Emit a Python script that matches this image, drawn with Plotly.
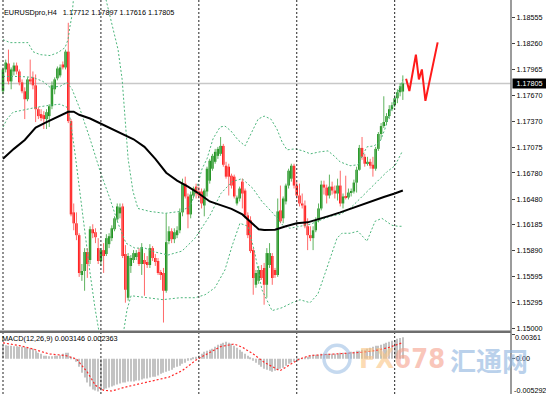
import plotly.graph_objects as go

# ---------------- data ----------------
symbol_label = "EURUSDpro,H4"
last_ohlc = [1.17712, 1.17897, 1.17616, 1.17805]
macd_name = "MACD(12,26,9)"
macd_last = [0.003146, 0.002363]
last_price = 1.17805

price_ticks = [1.18555, 1.18260, 1.17965, 1.17670, 1.17370, 1.17075, 1.16780,
               1.16480, 1.16185, 1.15890, 1.15595, 1.15295, 1.15000]
price_tick_text = ["1.18555", "1.18260", "1.17965", "1.17670", "1.17370", "1.17075", "1.16780",
                   "1.16480", "1.16185", "1.15890", "1.15595", "1.15295", "1.15000"]
macd_ticks = [0.00361, 0.0, -0.005292]
macd_tick_text = ["0.00361", "0.00", "-0.005292"]

# period separators (bar index)
separators = [0, 36, 72, 108, 144]

open_ = [1.17715, 1.17965, 1.18033, 1.17828, 1.17942, 1.18010, 1.17942, 1.17817, 1.17715, 1.17624,
         1.17851, 1.17874, 1.17783, 1.17510, 1.17454, 1.17442, 1.17397, 1.17431, 1.17544, 1.17738,
         1.17863, 1.17897, 1.18022, 1.17988, 1.18169, 1.17374, 1.16329, 1.16204, 1.16068, 1.15613,
         1.15659, 1.15875, 1.15784, 1.16136, 1.16102, 1.15920, 1.15772, 1.15897, 1.15852, 1.15965,
         1.16034, 1.16136, 1.16249, 1.16318, 1.16397, 1.15852, 1.15352, 1.15716, 1.15784, 1.15818,
         1.15875, 1.15738, 1.15784, 1.15761, 1.15727, 1.15920, 1.15806, 1.15772, 1.15647, 1.15636,
         1.15432, 1.16000, 1.16113, 1.16022, 1.16068, 1.16124, 1.16329, 1.16658, 1.16511, 1.16306,
         1.16522, 1.16624, 1.16568, 1.16568, 1.16408, 1.16568, 1.16692, 1.16829, 1.16908, 1.16976,
         1.16999, 1.17090, 1.16863, 1.16852, 1.16749, 1.16738, 1.16431, 1.16488, 1.16681, 1.16579,
         1.16295, 1.16238, 1.15897, 1.15500, 1.15545, 1.15670, 1.15693, 1.15500, 1.15727, 1.15829,
         1.15670, 1.15613, 1.16352, 1.16261, 1.16454, 1.16636, 1.16715, 1.16863, 1.16636, 1.16522,
         1.16431, 1.16408, 1.16170, 1.16068, 1.16034, 1.16124, 1.16238, 1.16374, 1.16647, 1.16613,
         1.16522, 1.16624, 1.16579, 1.16545, 1.16636, 1.16431, 1.16511, 1.16499, 1.16556, 1.16568,
         1.16670, 1.16817, 1.17067, 1.16965, 1.16886, 1.16908, 1.16874, 1.16829, 1.17056, 1.17226,
         1.17317, 1.17363, 1.17431, 1.17510, 1.17556, 1.17635, 1.17704, 1.17712]
high_ = [1.17988, 1.18078, 1.18192, 1.17988, 1.18044, 1.18044, 1.17965, 1.17851, 1.17760, 1.17874,
         1.18078, 1.17942, 1.17908, 1.17533, 1.17510, 1.17488, 1.17510, 1.17567, 1.17828, 1.17874,
         1.17999, 1.18022, 1.18056, 1.18192, 1.18499, 1.17397, 1.16431, 1.16329, 1.16090, 1.15738,
         1.15920, 1.15920, 1.16170, 1.16193, 1.16147, 1.16034, 1.15920, 1.15977, 1.16079, 1.16090,
         1.16181, 1.16284, 1.16431, 1.16431, 1.16431, 1.15954, 1.15863, 1.15840, 1.15897, 1.15897,
         1.15920, 1.15977, 1.15863, 1.15829, 1.15965, 1.15943, 1.15852, 1.15806, 1.15670, 1.15693,
         1.16318, 1.16170, 1.16147, 1.16147, 1.16170, 1.16374, 1.16715, 1.16738, 1.16545, 1.16568,
         1.16624, 1.16658, 1.16624, 1.16602, 1.16602, 1.16852, 1.16942, 1.16999, 1.17056, 1.17079,
         1.17192, 1.17113, 1.16908, 1.16886, 1.16772, 1.16761, 1.16522, 1.16624, 1.16715, 1.16602,
         1.16329, 1.16284, 1.15920, 1.15670, 1.15716, 1.15727, 1.15750, 1.15920, 1.15977, 1.15863,
         1.15693, 1.16488, 1.16636, 1.16511, 1.16658, 1.16829, 1.16886, 1.16886, 1.16681, 1.16658,
         1.16545, 1.16465, 1.16261, 1.16170, 1.16170, 1.16272, 1.16431, 1.16692, 1.16692, 1.16647,
         1.16761, 1.16681, 1.16636, 1.16715, 1.16806, 1.16545, 1.16749, 1.16602, 1.16602, 1.16704,
         1.16852, 1.17101, 1.17192, 1.16999, 1.16965, 1.16942, 1.16965, 1.17079, 1.17249, 1.17351,
         1.17658, 1.17465, 1.17556, 1.17590, 1.17669, 1.17738, 1.17806, 1.17897]
low_ = [1.17681, 1.17931, 1.17794, 1.17738, 1.17897, 1.17908, 1.17783, 1.17692, 1.17397, 1.17601,
        1.17794, 1.17738, 1.17363, 1.17397, 1.17374, 1.17283, 1.17283, 1.17306, 1.17510, 1.17681,
        1.17840, 1.17874, 1.17965, 1.17965, 1.17351, 1.16284, 1.16124, 1.16011, 1.15591, 1.15545,
        1.15432, 1.15579, 1.15738, 1.16034, 1.15977, 1.15738, 1.15716, 1.15636, 1.15829, 1.15920,
        1.16000, 1.16113, 1.16227, 1.16261, 1.15806, 1.15295, 1.15318, 1.15636, 1.15750, 1.15784,
        1.15716, 1.15613, 1.15375, 1.15693, 1.15693, 1.15772, 1.15716, 1.15613, 1.15556, 1.15068,
        1.15409, 1.15965, 1.15977, 1.15977, 1.16034, 1.16090, 1.16284, 1.16488, 1.16147, 1.16261,
        1.16488, 1.16488, 1.16488, 1.16374, 1.16284, 1.16511, 1.16658, 1.16806, 1.16886, 1.16942,
        1.16976, 1.16852, 1.16715, 1.16522, 1.16602, 1.16488, 1.16408, 1.16454, 1.16374, 1.16261,
        1.16034, 1.15863, 1.15386, 1.15466, 1.15511, 1.15556, 1.15272, 1.15352, 1.15693, 1.15500,
        1.15579, 1.15591, 1.16204, 1.16204, 1.16420, 1.16602, 1.16681, 1.16602, 1.16488, 1.16397,
        1.16374, 1.16147, 1.15897, 1.16000, 1.15897, 1.16102, 1.16215, 1.16352, 1.16533, 1.16431,
        1.16488, 1.16533, 1.16488, 1.16465, 1.16397, 1.16374, 1.16477, 1.16477, 1.16511, 1.16545,
        1.16556, 1.16806, 1.16931, 1.16852, 1.16863, 1.16829, 1.16738, 1.16806, 1.17033, 1.17170,
        1.17295, 1.17329, 1.17397, 1.17488, 1.17533, 1.17579, 1.17658, 1.17616]
close_ = [1.17965, 1.18044, 1.17828, 1.17965, 1.18010, 1.17942, 1.17817, 1.17715, 1.17624, 1.17851,
          1.17828, 1.17783, 1.17510, 1.17431, 1.17408, 1.17397, 1.17476, 1.17544, 1.17783, 1.17851,
          1.17976, 1.17988, 1.17988, 1.18169, 1.17374, 1.16306, 1.16204, 1.16068, 1.15636, 1.15659,
          1.15875, 1.15738, 1.16136, 1.16090, 1.16045, 1.15772, 1.15897, 1.15829, 1.16034, 1.16056,
          1.16147, 1.16261, 1.16397, 1.16386, 1.15829, 1.15443, 1.15829, 1.15806, 1.15863, 1.15863,
          1.15738, 1.15931, 1.15738, 1.15727, 1.15920, 1.15806, 1.15761, 1.15636, 1.15613, 1.15432,
          1.15988, 1.16113, 1.16022, 1.16102, 1.16124, 1.16329, 1.16658, 1.16511, 1.16306, 1.16533,
          1.16602, 1.16545, 1.16522, 1.16431, 1.16579, 1.16829, 1.16920, 1.16976, 1.17022, 1.17056,
          1.17090, 1.16874, 1.16738, 1.16738, 1.16636, 1.16511, 1.16499, 1.16602, 1.16545, 1.16295,
          1.16068, 1.15886, 1.15579, 1.15636, 1.15670, 1.15579, 1.15500, 1.15863, 1.15863, 1.15579,
          1.15613, 1.16340, 1.16227, 1.16488, 1.16636, 1.16806, 1.16863, 1.16636, 1.16522, 1.16431,
          1.16408, 1.16170, 1.16068, 1.16034, 1.16124, 1.16238, 1.16374, 1.16647, 1.16613, 1.16522,
          1.16624, 1.16579, 1.16545, 1.16636, 1.16431, 1.16511, 1.16499, 1.16556, 1.16568, 1.16670,
          1.16817, 1.17067, 1.16965, 1.16886, 1.16908, 1.16863, 1.16829, 1.17056, 1.17226, 1.17317,
          1.17363, 1.17431, 1.17510, 1.17556, 1.17635, 1.17704, 1.17772, 1.17805]

# moving average (black), sampled at bar indices
ma_idx = [0, 4, 8, 12, 16, 20, 24, 26, 28, 32, 36, 40, 44, 48, 52, 56, 60, 64, 68, 72,
          76, 80, 84, 88, 92, 94, 96, 100, 104, 108, 112, 116, 120, 124, 128, 132, 136, 140, 144, 147]
ma_val = [1.16942, 1.17056, 1.17158, 1.17300, 1.17363, 1.17420, 1.17480, 1.17482, 1.17446, 1.17403,
          1.17346, 1.17283, 1.17232, 1.17166, 1.17079, 1.16942, 1.16783, 1.16692, 1.16624, 1.16545,
          1.16454, 1.16414, 1.16369, 1.16306, 1.16193, 1.16136, 1.16128, 1.16131, 1.16170, 1.16204,
          1.16215, 1.16250, 1.16289, 1.16329, 1.16374, 1.16420, 1.16465, 1.16505, 1.16545, 1.16579]

# Bollinger bands (green dotted), sampled at bar indices
bb_up_idx = [0, 2.6, 6.3, 9.2, 11, 13.6, 17.3, 20.2, 22.8, 23.9, 24.6, 25.4, 26.5, 37.1, 37.9, 40.4,
             42.3, 43.8, 44.9, 46, 47.8, 49.6, 54, 59.6, 65.1, 68.8, 71, 73.2, 75, 77.2, 79.8, 81.6,
             83.8, 86.4, 89, 91.5, 93.8, 96, 98.5, 100.7, 102.6, 104.4, 107.4, 110.3, 113, 116.5,
             119.5, 121.7, 123.9, 127.6, 130.5, 133.8, 136.4, 138.6, 140.4, 142.3, 144.5, 146, 147]
bb_up_val = [1.18306, 1.18272, 1.18272, 1.18272, 1.18169, 1.18135, 1.18124, 1.18158, 1.18215, 1.18306,
             1.18453, 1.18590, 1.18990, 1.18990, 1.18760, 1.18453, 1.18192, 1.17851, 1.17340, 1.16942,
             1.16568, 1.16374, 1.16340, 1.16318, 1.16340, 1.16397, 1.16579, 1.16829, 1.16942, 1.17170,
             1.17306, 1.17317, 1.17261, 1.17158, 1.17090, 1.17249, 1.17397, 1.17431, 1.17397, 1.17283,
             1.17136, 1.17045, 1.17056, 1.17033, 1.16999, 1.17022, 1.17033, 1.16976, 1.16908, 1.16863,
             1.16874, 1.17079, 1.17090, 1.17136, 1.17283, 1.17476, 1.17658, 1.17772, 1.17851]
bb_mid_idx = [0, 2.6, 6.3, 11, 14.7, 17.3, 21, 23.5, 25.4, 28.3, 32, 36, 39.3, 42.3, 45.2, 48.5,
              52.2, 55.9, 60.7, 65.8, 70.6, 76.1, 80.1, 84.2, 87.9, 91.9, 95.2, 99.3, 102.9, 105.5,
              109.2, 112.9, 116.5, 120.2, 123.9, 127.6, 131.3, 134.9, 138.6, 141.2, 144.1, 146.7]
bb_mid_val = [1.17885, 1.17885, 1.17885, 1.17874, 1.17828, 1.17760, 1.17772, 1.17817, 1.17738, 1.17511,
              1.17170, 1.16772, 1.16488, 1.16204, 1.15977, 1.15920, 1.15920, 1.15875, 1.15841, 1.15886,
              1.16034, 1.16295, 1.16545, 1.16681, 1.16715, 1.16602, 1.16454, 1.16318, 1.16181, 1.16147,
              1.16170, 1.16193, 1.16238, 1.16284, 1.16306, 1.16374, 1.16488, 1.16602, 1.16715, 1.16795,
              1.16863, 1.17022]
bb_low_idx = [0, 1.5, 3.7, 8.8, 12.5, 17.3, 21, 23.5, 24.6, 26.5, 28.3, 30.1, 32, 33.8, 35.7, 37.5,
              42.3, 44.1, 45.6, 47.1, 52.9, 58.8, 65.1, 70.6, 74.3, 77.9, 81.6, 84.2, 87.1, 90.1,
              92.6, 95.2, 98.9, 102.6, 106.3, 109.2, 112.9, 115.8, 117.6, 120.2, 122.8, 124.6, 127.6,
              130.5, 133.8, 136.8, 139.3, 143, 145.2, 147]
bb_low_val = [1.17306, 1.17397, 1.17476, 1.17511, 1.17533, 1.17556, 1.17567, 1.17533, 1.17420, 1.16999,
              1.16545, 1.16090, 1.15636, 1.15238, 1.14898, 1.14557, 1.14557, 1.14898, 1.15216, 1.15375,
              1.15352, 1.15330, 1.15352, 1.15352, 1.15386, 1.15466, 1.15670, 1.15943, 1.16204, 1.16170,
              1.15863, 1.15443, 1.15204, 1.15238, 1.15295, 1.15329, 1.15295, 1.15397, 1.15557, 1.15784,
              1.16034, 1.16090, 1.16090, 1.16113, 1.15999, 1.16227, 1.16261, 1.16181, 1.16170, 1.16170]

# projected path (red)
proj_idx = [148.2, 149.4, 151.8, 152.9, 154.0, 155.3, 159.8]
proj_val = [1.17859, 1.17718, 1.18135, 1.17851, 1.17965, 1.17605, 1.18275]

# MACD main (grey histogram), one value per bar
macd_main = [0.00197, 0.00197, 0.00190, 0.00190, 0.00182, 0.00182, 0.00175, 0.00175, 0.00168, 0.00160,
             0.00153, 0.00146, 0.00117, 0.00088, 0.00073, 0.00044, 0.00044, 0.00036, 0.00036, 0.00044,
             0.00044, 0.00051, 0.00073, 0.00088, 0.00088, 0.00029, 0.00007, -0.00044, -0.00117, -0.00204,
             -0.00277, -0.00350, -0.00409, -0.00452, -0.00467, -0.00481, -0.00467, -0.00452, -0.00438, -0.00423,
             -0.00409, -0.00394, -0.00379, -0.00365, -0.00350, -0.00350, -0.00336, -0.00336, -0.00336, -0.00321,
             -0.00321, -0.00306, -0.00292, -0.00292, -0.00277, -0.00263, -0.00263, -0.00248, -0.00219, -0.00204,
             -0.00190, -0.00175, -0.00160, -0.00131, -0.00117, -0.00102, -0.00073, -0.00058, -0.00029, -0.00015,
             0.00015, 0.00029, 0.00044, 0.00073, 0.00102, 0.00117, 0.00131, 0.00146, 0.00175, 0.00204,
             0.00219, 0.00233, 0.00248, 0.00233, 0.00219, 0.00190, 0.00160, 0.00131, 0.00102, 0.00073,
             0.00044, 0.00015, -0.00029, -0.00058, -0.00088, -0.00117, -0.00146, -0.00160, -0.00175, -0.00190,
             -0.00175, -0.00160, -0.00146, -0.00131, -0.00102, -0.00073, -0.00058, -0.00044, -0.00029, -0.00015,
             0.00007, 0.00015, 0.00029, 0.00044, 0.00058, 0.00058, 0.00058, 0.00073, 0.00073, 0.00073,
             0.00073, 0.00073, 0.00073, 0.00073, 0.00088, 0.00088, 0.00088, 0.00088, 0.00102, 0.00102,
             0.00117, 0.00117, 0.00131, 0.00131, 0.00146, 0.00160, 0.00175, 0.00190, 0.00190, 0.00204,
             0.00219, 0.00233, 0.00248, 0.00263, 0.00277, 0.00292, 0.00306, 0.003146]
# MACD signal (red dotted), sampled at bar indices
sig_idx = [0, 6, 11, 17, 23, 27, 31, 34, 37, 40, 45, 50, 56, 61, 66, 71, 75, 80, 85, 88, 92, 96,
           101, 102, 105, 109, 113, 118, 123, 128, 132, 137, 142, 147]
sig_val = [0.00233, 0.00193, 0.00143, 0.00070, 0.00047, -0.00003, -0.00197, -0.00391, -0.00464, -0.00474,
           -0.00416, -0.00368, -0.00309, -0.00270, -0.00172, -0.00018, 0.00070, 0.00178, 0.00216, 0.00168,
           0.00070, -0.00051, -0.00160, -0.00172, -0.00099, -0.00003, 0.00047, 0.00061, 0.00070, 0.00080,
           0.00095, 0.00120, 0.00168, 0.002363]

# ---------------- figure ----------------
W, H = 546, 397
PLOT_W = 511
bars = list(range(len(close_)))

UP_BODY, UP_WICK = "#0a870a", "#5fb35f"
DN_BODY, DN_WICK = "#ff0000", "#ff6a6a"
BB_COL = "#4db67c"
FONT = "Liberation Sans, Arial, sans-serif"

fig = go.Figure()

wx_u, wy_u, wx_d, wy_d = [], [], [], []
for i in bars:
    if close_[i] >= open_[i]:
        wx_u += [i, i, None]; wy_u += [low_[i], high_[i], None]
    else:
        wx_d += [i, i, None]; wy_d += [low_[i], high_[i], None]
fig.add_trace(go.Scatter(x=wx_u, y=wy_u, mode="lines", line=dict(color=UP_WICK, width=1),
                         hoverinfo="skip", xaxis="x", yaxis="y"))
fig.add_trace(go.Scatter(x=wx_d, y=wy_d, mode="lines", line=dict(color=DN_WICK, width=1),
                         hoverinfo="skip", xaxis="x", yaxis="y"))

body_base = [min(o, c) for o, c in zip(open_, close_)]
body_len = [max(abs(c - o), 0.00008) for o, c in zip(open_, close_)]
body_col = [UP_BODY if c >= o else DN_BODY for o, c in zip(open_, close_)]
fig.add_trace(go.Bar(x=bars, y=body_len, base=body_base, width=0.9,
                     marker=dict(color=body_col, line=dict(width=0)),
                     hoverinfo="skip", xaxis="x", yaxis="y"))

for ix, iv in [(bb_up_idx, bb_up_val), (bb_mid_idx, bb_mid_val), (bb_low_idx, bb_low_val)]:
    fig.add_trace(go.Scatter(x=ix, y=iv, mode="lines",
                             line=dict(color=BB_COL, width=1, dash="2px,2px"),
                             hoverinfo="skip", xaxis="x", yaxis="y"))

fig.add_trace(go.Scatter(x=ma_idx, y=ma_val, mode="lines", line=dict(color="#000000", width=2),
                         hoverinfo="skip", xaxis="x", yaxis="y"))
fig.add_trace(go.Scatter(x=proj_idx, y=proj_val, mode="lines", line=dict(color="#ff1a1a", width=2),
                         hoverinfo="skip", xaxis="x", yaxis="y"))

fig.add_trace(go.Bar(x=bars, y=macd_main, width=0.4, marker=dict(color="#c3c3c3", line=dict(width=0)),
                     hoverinfo="skip", xaxis="x2", yaxis="y2"))
fig.add_trace(go.Scatter(x=sig_idx, y=sig_val, mode="lines",
                         line=dict(color="#ff2a2a", width=1.2, dash="2px,2px"),
                         hoverinfo="skip", xaxis="x2", yaxis="y2"))

xr = [-3 / 2.72, (PLOT_W - 3) / 2.72]
main_bottom = 1.1876 - 0.0001136 * 333

shapes = []
for s in separators:
    shapes.append(dict(type="line", xref="x", yref="paper", x0=s, x1=s, y0=0, y1=1,
                       line=dict(color="#222222", width=1, dash="2px,2px"), layer="above"))
shapes.append(dict(type="line", xref="paper", yref="y", x0=0, x1=1, y0=last_price, y1=last_price,
                   line=dict(color="#c8c8c8", width=1.5), layer="below"))
shapes.append(dict(type="line", xref="paper", yref="paper", x0=0, x1=1,
                   y0=(H - 334.3) / H, y1=(H - 334.3) / H, line=dict(color="#6e6e6e", width=2.5)))
shapes.append(dict(type="line", xref="paper", yref="paper", x0=1, x1=1, y0=0, y1=1,
                   line=dict(color="#7a7a7a", width=1.5)))
# watermark logo ring
shapes.append(dict(type="circle", xref="paper", yref="paper",
                   x0=324 / PLOT_W, x1=350 / PLOT_W, y0=(H - 375) / H, y1=(H - 348) / H,
                   line=dict(color="rgba(150,185,225,0.55)", width=3.5), layer="above"))

ann_font = dict(family=FONT, size=7.3, color="#000000")
annotations = [
    dict(text=symbol_label + "\u00a0\u00a0 " + " ".join(f"{v:.5f}" for v in last_ohlc),
         xref="paper", yref="paper", x=2 / PLOT_W, y=(H - 13) / H, xanchor="left", yanchor="middle",
         showarrow=False, font=ann_font),
    dict(text=f"{macd_name} {macd_last[0]:.6f} {macd_last[1]:.6f}",
         xref="paper", yref="paper", x=0, y=(H - 341.5) / H, xanchor="left", yanchor="middle",
         showarrow=False, font=ann_font),
    dict(text=f"{last_price:.5f}", xref="paper", yref="y", x=1, y=last_price, xanchor="left",
         yanchor="middle", xshift=1, showarrow=False, bgcolor="#000000", borderpad=0, width=33,
         font=dict(family=FONT, size=7.2, color="#ffffff")),
    dict(text=macd_tick_text[0], xref="paper", yref="paper", x=1, y=(H - 340) / H, xanchor="left",
         yanchor="middle", xshift=2, showarrow=False, font=dict(family=FONT, size=7.2, color="#000")),
    dict(text=macd_tick_text[1], xref="paper", yref="y2", x=1, y=macd_ticks[1], xanchor="left",
         yanchor="middle", xshift=3, showarrow=False, font=dict(family=FONT, size=7.2, color="#000")),
    dict(text=macd_tick_text[2], xref="paper", yref="paper", x=1, y=(H - 393) / H, xanchor="left",
         yanchor="middle", xshift=1, showarrow=False, font=dict(family=FONT, size=7.2, color="#000")),
    # watermark
    dict(text="<b><span style='color:rgba(250,196,130,0.6)'>FX</span>"
              "<span style='color:rgba(245,160,140,0.6)'>678</span></b>",
         xref="paper", yref="paper", x=402 / PLOT_W, y=(H - 361) / H, xanchor="center", yanchor="middle",
         showarrow=False, font=dict(family="Liberation Sans Narrow, DejaVu Sans Condensed, sans-serif", size=27)),
    dict(text="<b>汇通网</b>", xref="paper", yref="paper", x=489 / PLOT_W, y=(H - 362) / H,
         xanchor="center", yanchor="middle", showarrow=False,
         font=dict(family="Noto Sans CJK SC", size=26, color="rgba(140,178,222,0.6)")),
]

fig.update_layout(
    width=W, height=H, margin=dict(l=0, r=W - PLOT_W, t=0, b=0),
    paper_bgcolor="#ffffff", plot_bgcolor="#ffffff", showlegend=False, barmode="overlay",
    xaxis=dict(domain=[0, 1], range=xr, visible=False, anchor="y"),
    xaxis2=dict(domain=[0, 1], range=xr, visible=False, anchor="y2", matches="x"),
    yaxis=dict(domain=[(H - 333) / H, 1], range=[main_bottom, 1.1876], side="right", anchor="x",
               tickvals=price_ticks, ticktext=price_tick_text, ticks="outside", ticklen=3,
               tickcolor="#404040", tickwidth=1, showgrid=False, zeroline=False, showline=False,
               tickfont=dict(family=FONT, size=7.2, color="#000000")),
    yaxis2=dict(domain=[0, (H - 336.7) / H], range=[-0.00518, 0.00361], side="right", anchor="x2",
                tickvals=[macd_ticks[0], macd_ticks[1]], ticktext=["", ""], ticks="outside", ticklen=3,
                tickcolor="#404040", showgrid=False, zeroline=False, showline=False),
    shapes=shapes, annotations=annotations,
)

fig.write_html("out.html", config={"displayModeBar": False},
               post_script="document.body.style.margin='0';document.body.style.overflow='hidden';")
